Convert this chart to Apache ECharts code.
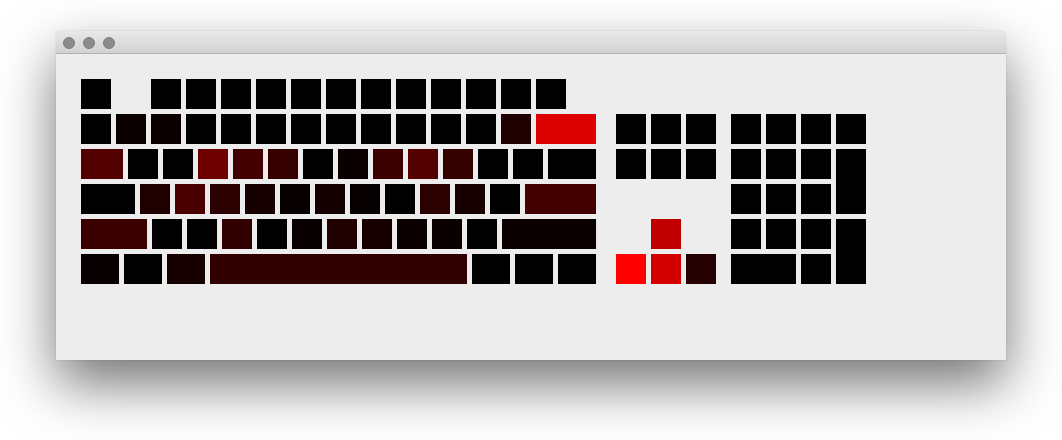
<!DOCTYPE html>
<html>
<head>
<meta charset="utf-8">
<script src="https://cdn.jsdelivr.net/npm/echarts@6/dist/echarts.min.js"></script>
<style>
  html, body { margin: 0; padding: 0; background: #ffffff; width: 1062px; height: 440px; overflow: hidden; }
  .win { position: absolute; left: 56px; top: 31px; width: 950px; height: 329px;
         border-radius: 5px 5px 0 0; background: #ededed;
         box-shadow: 0 24px 55px 0 rgba(0,0,0,0.55), 0 0 1px rgba(0,0,0,0.35); }
  .bar { position: absolute; left: 0; top: 0; width: 950px; height: 22px;
         border-radius: 5px 5px 0 0;
         background: linear-gradient(#e9e9e9, #d2d2d2);
         border-bottom: 1px solid #b1b1b1; }
  .dot { position: absolute; top: 6px; width: 12px; height: 12px; border-radius: 50%;
         background: #8b8b8b; box-sizing: border-box; border: 1px solid #7d7d7d; }
  #chart { position: absolute; left: 0; top: 23px; width: 950px; height: 306px; }
</style>
</head>
<body>
<div class="win">
  <div class="bar">
    <div class="dot" style="left:7px"></div>
    <div class="dot" style="left:27px"></div>
    <div class="dot" style="left:47px"></div>
  </div>
  <div id="chart"></div>
</div>
<script>
// ---- Data: key names and press intensity (0-255) ----
const row0Keys = ['Esc','F1','F2','F3','F4','F5','F6','F7','F8','F9','F10','F11','F12'];
const row0Vals = [0,0,0,0,0,0,0,0,0,0,0,0,0];
const row1Keys = ['`','1','2','3','4','5','6','7','8','9','0','-','=','Backspace'];
const row1Vals = [0,10,10,0,0,0,0,0,0,0,0,0,30,221];
const row2Keys = ['Tab','Q','W','E','R','T','Y','U','I','O','P','[',']','\\'];
const row2Vals = [82,0,0,110,66,54,0,10,60,82,52,0,0,0];
const row3Keys = ['CapsLock','A','S','D','F','G','H','J','K','L',';',"'",'Enter'];
const row3Vals = [0,30,74,42,22,6,20,6,0,42,22,0,66];
const row4Keys = ['Shift','Z','X','C','V','B','N','M',',','.','/','RShift'];
const row4Vals = [58,0,0,48,0,8,32,24,10,10,0,10];
const row5Keys = ['Ctrl','Win','Alt','Space','AltGr','Menu','RCtrl'];
const row5Vals = [8,0,22,48,0,0,0];
const navKeys = ['Insert','Home','PageUp','Delete','End','PageDown','Up','Left','Down','Right'];
const navVals = [0,0,0,0,0,0,192,255,212,36];
const padKeys = ['NumLock','Num/','Num*','Num-','Num7','Num8','Num9','Num+','Num4','Num5','Num6',
                 'Num1','Num2','Num3','NumEnter','Num0','Num.'];
const padVals = [0,0,0,0,0,0,0,0,0,0,0,0,0,0,0,0,0];

// ---- Keyboard geometry in key units (width incl. gap); negative = empty space ----
const mainWidths = [
  [1,-1,1,1,1,1,1,1,1,1,1,1,1,1],
  [1,1,1,1,1,1,1,1,1,1,1,1,1,1.857],
  [1.343,1,1,1,1,1,1,1,1,1,1,1,1,1.514],
  [1.686,1,1,1,1,1,1,1,1,1,1,1,2.171],
  [2.029,1,1,1,1,1,1,1,1,1,1,2.829],
  [1.2286,1.2286,1.2286,7.486,1.2286,1.2286,1.2286]
];
const navOrigin = 15.286, padOrigin = 18.571;
// [col, row, w, h]
const navGeom = [[0,1,1,1],[1,1,1,1],[2,1,1,1],[0,2,1,1],[1,2,1,1],[2,2,1,1],
                 [1,4,1,1],[0,5,1,1],[1,5,1,1],[2,5,1,1]];
const padGeom = [[0,1,1,1],[1,1,1,1],[2,1,1,1],[3,1,1,1],
                 [0,2,1,1],[1,2,1,1],[2,2,1,1],[3,2,1,2],
                 [0,3,1,1],[1,3,1,1],[2,3,1,1],
                 [0,4,1,1],[1,4,1,1],[2,4,1,1],[3,4,1,2],
                 [0,5,2,1],[2,5,1,1]];

const mainKeys = [row0Keys,row1Keys,row2Keys,row3Keys,row4Keys,row5Keys];
const mainVals = [row0Vals,row1Vals,row2Vals,row3Vals,row4Vals,row5Vals];

const data = [];
mainWidths.forEach((ws, r) => {
  let x = 0, k = 0;
  ws.forEach(w => {
    if (w < 0) { x += -w; return; }
    data.push({ name: mainKeys[r][k], value: [x, r, w, 1, mainVals[r][k]] });
    x += w; k++;
  });
});
navGeom.forEach((g, i) => data.push({ name: navKeys[i], value: [navOrigin + g[0], g[1], g[2], g[3], navVals[i]] }));
padGeom.forEach((g, i) => data.push({ name: padKeys[i], value: [padOrigin + g[0], g[1], g[2], g[3], padVals[i]] }));

const chart = echarts.init(document.getElementById('chart'), null, { renderer: 'canvas' });
chart.setOption({
  animation: false,
  backgroundColor: '#ededed',
  grid: { left: 25, top: 25, width: 840, height: 210 },
  xAxis: { type: 'value', min: 0, max: 24, show: false },
  yAxis: { type: 'value', min: 0, max: 6, inverse: true, show: false },
  visualMap: { show: false, type: 'continuous', min: 0, max: 255, dimension: 4,
               inRange: { color: ['#000000', '#ff0000'] } },
  series: [{
    type: 'custom',
    data: data,
    encode: { x: [0], y: [1] },
    renderItem: function (params, api) {
      const x = api.value(0), y = api.value(1), w = api.value(2), h = api.value(3);
      const p0 = api.coord([x, y]);
      const p1 = api.coord([x + w, y + h]);
      return {
        type: 'rect',
        shape: { x: p0[0], y: p0[1], width: p1[0] - p0[0] - 5, height: p1[1] - p0[1] - 5 },
        style: { fill: api.visual('color') }
      };
    }
  }]
});
</script>
</body>
</html>
